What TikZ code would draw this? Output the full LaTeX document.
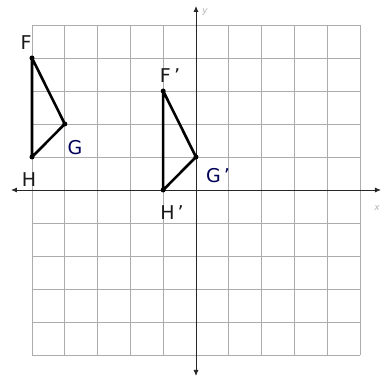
\documentclass[tikz,border=0pt]{standalone}
\usepackage{fontspec}
\setmainfont{DejaVu Sans}
\usetikzlibrary{arrows.meta}
\begin{document}
\begin{tikzpicture}[x=32.8pt,y=33pt,
  gridsolid/.style={gray!65, line width=0.6pt},
  axis/.style={black!85, line width=0.9pt, -{Latex[length=6pt,width=5pt]}},
  tri/.style={black, line width=2.6pt, line join=round, line cap=round},
  dot/.style={circle, fill=black, inner sep=0pt, minimum size=5pt},
  lab/.style={font=\fontsize{19}{19}\selectfont, text=black!90, inner sep=0pt},
  labb/.style={font=\fontsize{19}{19}\selectfont, text=blue!35!black, inner sep=0pt},
  axlab/.style={font=\fontsize{9}{9}\selectfont\itshape, text=gray!60, inner sep=0pt}]
\useasboundingbox (-196pt,-193pt) rectangle (188pt,190pt);
% grid
\foreach \i in {-5,...,5} {
  \draw[gridsolid] (\i,-5) -- (\i,5);
  \draw[gridsolid] (-5,\i) -- (5,\i);
}
% axes
\coordinate (xl) at (-185pt,0);
\coordinate (xr) at (185pt,0);
\coordinate (yb) at (0,-186pt);
\coordinate (yt) at (0,184pt);
\draw[axis] (0,0) -- (xr);
\draw[axis] (0,0) -- (xl);
\draw[axis] (0,0) -- (yt);
\draw[axis] (0,0) -- (yb);
\node[axlab] (ylab) at (9pt,178pt) {y};
\node[axlab] (xlab) at (181pt,-18pt) {x};
% triangle FGH
\node[dot] (F) at (-5,4) {};
\node[dot] (G) at (-4,2) {};
\node[dot] (H) at (-5,1) {};
\draw[tri] (F.center) -- (G.center) -- (H.center) -- cycle;
% triangle F'G'H'
\node[dot] (F1) at (-1,3) {};
\node[dot] (G1) at (0,1) {};
\node[dot] (H1) at (-1,0) {};
\draw[tri] (F1.center) -- (G1.center) -- (H1.center) -- cycle;
% labels
\node[lab] (Fl) at (-170pt,147pt) {F};
\node[labb] (Gl) at (-121pt,42pt) {G};
\node[lab] (Hl) at (-167pt,10pt) {H};
\node[lab] (F1l) at (-26pt,114pt) {F\,'};
\node[labb] (G1l) at (22pt,14pt) {G\,'};
\node[lab] (H1l) at (-24pt,-23pt) {H\,'};
\end{tikzpicture}
\end{document}
